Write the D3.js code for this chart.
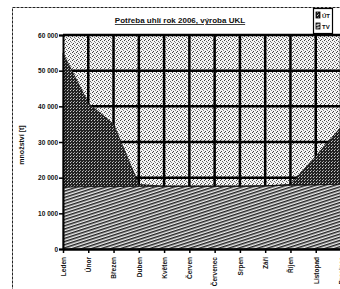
<!DOCTYPE html>
<html>
<head>
<meta charset="utf-8">
<script src="https://cdn.jsdelivr.net/npm/d3@7"></script>
<style>
  body { margin: 0; background: #fff; }
  svg { display: block; font-family: "Liberation Sans", Arial, sans-serif; }
</style>
</head>
<body>
<svg></svg>
<script>
// data
var months = ['Leden', 'Únor', 'Březen', 'Duben', 'Květen', 'Červen',
    'Červenec', 'Srpen', 'Září', 'Říjen', 'Listopad', 'Prosinec'];
var tv = [17400, 17500, 17500, 17600, 17600, 17600, 17600, 17600, 17700, 17900, 18000, 18200];
var ut = [37500, 23400, 17500, 500, 0, 0, 0, 0, 0, 200, 8000, 16000];
var yTicks = [0, 10000, 20000, 30000, 40000, 50000, 60000];
var title = 'Potřeba uhlí rok 2006, výroba UKL';
var yTitle = 'množství [t]';
var legendNames = ['ÚT', 'TV'];

var W = 340, H = 289;
var svg = d3.select('svg').attr('width', W).attr('height', H);

var defs = svg.append('defs');

// light stipple for the plot background
var bg = defs.append('pattern').attr('id', 'bgPat')
    .attr('width', 4).attr('height', 4).attr('patternUnits', 'userSpaceOnUse');
bg.append('rect').attr('width', 4).attr('height', 4).attr('fill', '#f4f4f4');
bg.append('rect').attr('x', 0).attr('y', 0).attr('width', 1).attr('height', 1).attr('fill', '#444');
bg.append('rect').attr('x', 2).attr('y', 1).attr('width', 1).attr('height', 1).attr('fill', '#666');
bg.append('rect').attr('x', 1).attr('y', 3).attr('width', 1).attr('height', 1).attr('fill', '#444');
bg.append('rect').attr('x', 3).attr('y', 2).attr('width', 1).attr('height', 1).attr('fill', '#888');

// dark stipple for heating
var dk = defs.append('pattern').attr('id', 'darkPat')
    .attr('width', 3).attr('height', 3).attr('patternUnits', 'userSpaceOnUse');
dk.append('rect').attr('width', 3).attr('height', 3).attr('fill', '#222');
dk.append('rect').attr('x', 1).attr('y', 0).attr('width', 1).attr('height', 1).attr('fill', '#ccc');
dk.append('rect').attr('x', 2).attr('y', 2).attr('width', 1).attr('height', 1).attr('fill', '#999');

// shallow diagonal hatch for hot water
var ht = defs.append('pattern').attr('id', 'hatchPat')
    .attr('width', 6).attr('height', 3).attr('patternUnits', 'userSpaceOnUse')
    .attr('patternTransform', 'rotate(-18)');
ht.append('rect').attr('width', 6).attr('height', 3).attr('fill', '#eee');
ht.append('rect').attr('width', 6).attr('height', 1.5).attr('fill', '#222');

var x = d3.scalePoint().domain(months).range([63, 341]);
var y = d3.scaleLinear().domain([0, 60000]).range([249, 35]);

// outer frame
svg.append('rect')
    .attr('x', 12.5).attr('y', 7.5)
    .attr('width', 340).attr('height', 300)
    .attr('fill', 'none')
    .attr('stroke', '#222')
    .attr('stroke-width', 1)
    .attr('stroke-dasharray', '3,1');

// plot background
svg.append('rect')
    .attr('x', 63).attr('y', y(60000))
    .attr('width', 341 - 63).attr('height', y(0) - y(60000))
    .attr('fill', 'url(#bgPat)');

// gridlines
svg.append('g').selectAll('line.h')
    .data(yTicks.slice(1))
    .join('line')
    .attr('x1', 63).attr('x2', 341)
    .attr('y1', function (d) { return y(d); })
    .attr('y2', function (d) { return y(d); })
    .attr('stroke', '#000').attr('stroke-width', 2.5);

svg.append('g').selectAll('line.v')
    .data(months.slice(1))
    .join('line')
    .attr('x1', function (d) { return x(d); })
    .attr('x2', function (d) { return x(d); })
    .attr('y1', y(60000)).attr('y2', y(0))
    .attr('stroke', '#000').attr('stroke-width', 2.5);

// stacked areas
var table = months.map(function (m, i) { return { month: m, tv: tv[i], ut: ut[i] }; });
var series = d3.stack().keys(['tv', 'ut'])(table);
var area = d3.area()
    .x(function (d) { return x(d.data.month); })
    .y0(function (d) { return y(d[0]); })
    .y1(function (d) { return y(d[1]); });

var fills = { tv: 'url(#hatchPat)', ut: 'url(#darkPat)' };
svg.append('g').selectAll('path')
    .data(series)
    .join('path')
    .attr('d', area)
    .attr('fill', function (d) { return fills[d.key]; })
    .attr('stroke', '#111')
    .attr('stroke-width', 0.8);

// axes
var yAxis = svg.append('g')
    .attr('transform', 'translate(63,0)')
    .call(d3.axisLeft(y).tickValues(yTicks).tickSize(4)
        .tickFormat(function (d) { return d3.format(',')(d).replace(/,/g, ' '); }));
yAxis.select('.domain').attr('stroke', '#000').attr('stroke-width', 2);
yAxis.selectAll('.tick line').attr('stroke', '#000').attr('stroke-width', 1.5);
yAxis.selectAll('text')
    .attr('font-size', 6.5).attr('font-weight', 'bold').attr('fill', '#111')
    .attr('x', -5);

var xAxis = svg.append('g')
    .attr('transform', 'translate(0,249)')
    .call(d3.axisBottom(x).tickSize(4).tickSizeOuter(0));
xAxis.select('.domain').attr('stroke', '#000').attr('stroke-width', 2.5);
xAxis.selectAll('.tick line').attr('stroke', '#000').attr('stroke-width', 1.5);
xAxis.selectAll('text')
    .attr('font-size', 6.5).attr('font-weight', 'bold').attr('fill', '#111')
    .attr('text-anchor', 'end')
    .attr('transform', 'rotate(-90)')
    .attr('x', -8).attr('y', 0).attr('dy', '0.35em');

// y title
svg.append('text')
    .attr('transform', 'translate(24,145) rotate(-90)')
    .attr('text-anchor', 'middle')
    .attr('font-size', 7).attr('font-weight', 'bold').attr('fill', '#111')
    .text(yTitle);

// title
svg.append('text')
    .attr('x', 180).attr('y', 23)
    .attr('text-anchor', 'middle')
    .attr('font-size', 8).attr('font-weight', 'bold').attr('fill', '#111')
    .attr('text-decoration', 'underline')
    .text(title);

// legend
var lg = svg.append('g').attr('transform', 'translate(313,8)');
lg.append('rect').attr('x', 0.5).attr('y', 0.5).attr('width', 19).attr('height', 25)
    .attr('fill', '#fff').attr('stroke', '#000').attr('stroke-width', 1.2);
var items = lg.selectAll('g.item')
    .data(legendNames)
    .join('g')
    .attr('transform', function (d, i) { return 'translate(3,' + (4 + i * 11) + ')'; });
items.append('rect').attr('width', 4).attr('height', 6)
    .attr('fill', function (d, i) { return i === 0 ? 'url(#darkPat)' : 'url(#hatchPat)'; })
    .attr('stroke', '#000').attr('stroke-width', 0.8);
items.append('text')
    .attr('x', 6).attr('y', 5.5)
    .attr('font-size', 6).attr('font-weight', 'bold').attr('fill', '#111')
    .text(function (d) { return d; });
</script>
</body>
</html>
